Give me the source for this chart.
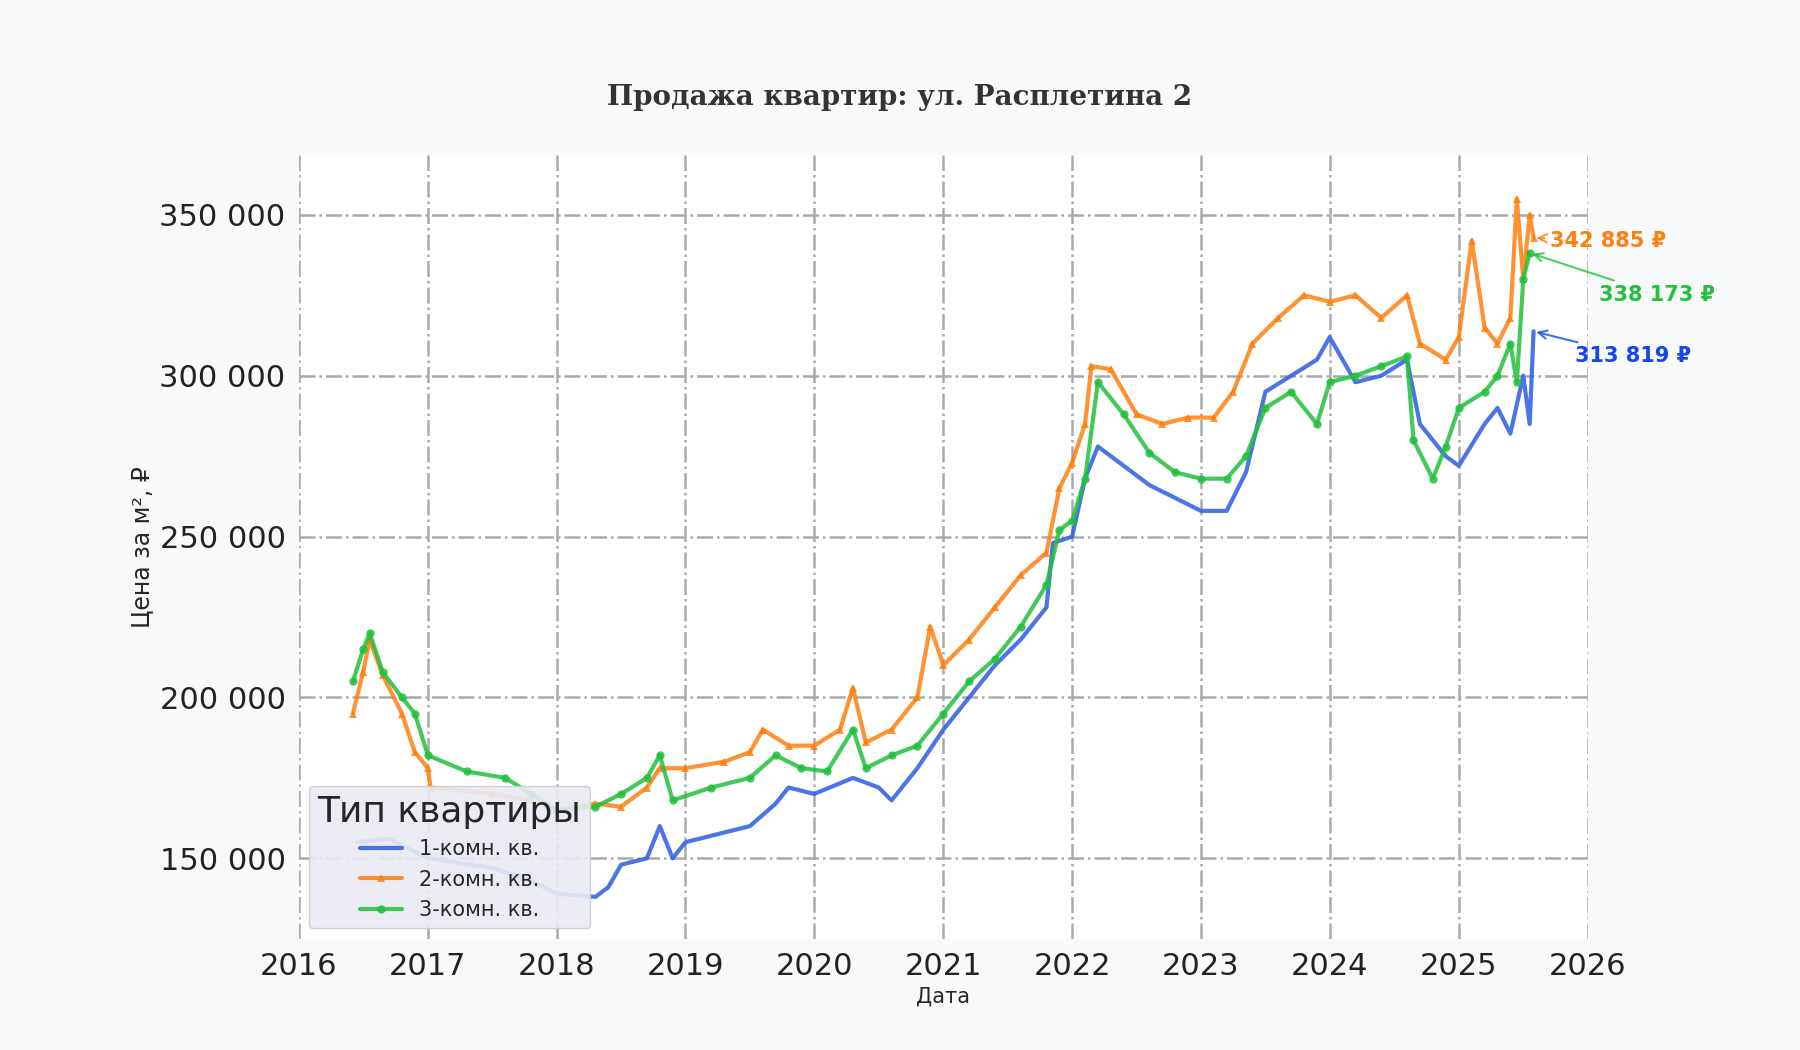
import numpy as np, pandas as pd, seaborn as sns, matplotlib
matplotlib.use("Agg")
import matplotlib.pyplot as plt
import matplotlib.dates as mdates

t1 = [2016.45,2016.7,2017.0,2017.5,2017.8,2018.0,2018.3,2018.4,2018.5,2018.7,2018.8,2018.9,2019.0,2019.5,2019.7,2019.8,2020.0,2020.3,2020.5,2020.6,2020.8,2021.0,2021.2,2021.4,2021.6,2021.8,2021.85,2022.0,2022.1,2022.2,2022.4,2022.6,2022.8,2023.0,2023.2,2023.35,2023.5,2023.7,2023.9,2024.0,2024.2,2024.4,2024.6,2024.7,2024.9,2025.0,2025.2,2025.3,2025.4,2025.5,2025.55,2025.58]
v1 = [155,156,150,147,143,139,138,141,148,150,160,150,155,160,167,172,170,175,172,168,178,190,200,210,218,228,248,250,268,278,272,266,262,258,258,270,295,300,305,312,298,300,305,285,275,272,285,290,282,300,285,313.819]
t2 = [2016.42,2016.5,2016.55,2016.65,2016.8,2016.9,2017.0,2017.02,2017.5,2017.8,2018.0,2018.3,2018.5,2018.7,2018.8,2019.0,2019.3,2019.5,2019.6,2019.8,2020.0,2020.2,2020.3,2020.4,2020.6,2020.8,2020.9,2021.0,2021.2,2021.4,2021.6,2021.8,2021.9,2022.0,2022.1,2022.15,2022.3,2022.5,2022.7,2022.9,2023.1,2023.25,2023.4,2023.6,2023.8,2024.0,2024.2,2024.4,2024.6,2024.7,2024.9,2025.0,2025.1,2025.2,2025.3,2025.4,2025.45,2025.5,2025.55,2025.58]
v2 = [195,208,218,207,195,183,178,172,170,168,165,167,166,172,178,178,180,183,190,185,185,190,203,186,190,200,222,210,218,228,238,245,265,273,285,303,302,288,285,287,287,295,310,318,325,323,325,318,325,310,305,312,342,315,310,318,355,330,350,342.885]
t3 = [2016.42,2016.5,2016.55,2016.65,2016.8,2016.9,2017.0,2017.3,2017.6,2017.8,2018.0,2018.3,2018.5,2018.7,2018.8,2018.9,2019.2,2019.5,2019.7,2019.9,2020.1,2020.3,2020.4,2020.6,2020.8,2021.0,2021.2,2021.4,2021.6,2021.8,2021.9,2022.0,2022.1,2022.2,2022.4,2022.6,2022.8,2023.0,2023.2,2023.35,2023.5,2023.7,2023.9,2024.0,2024.2,2024.4,2024.6,2024.65,2024.8,2024.9,2025.0,2025.2,2025.3,2025.4,2025.45,2025.5,2025.55]
v3 = [205,215,220,208,200,195,182,177,175,170,165,166,170,175,182,168,172,175,182,178,177,190,178,182,185,195,205,212,222,235,252,255,268,298,288,276,270,268,268,275,290,295,285,298,300,303,306,280,268,278,290,295,300,310,298,330,338.173]
labels = ["1-комн. кв.", "2-комн. кв.", "3-комн. кв."]
colors = ["#2b5ce6", "#ff7f0e", "#22c03c"]
markers = [None, "^", "o"]

def todate(ts):
    return [pd.Timestamp("%d-01-01" % int(t)) + pd.Timedelta(days=(t - int(t)) * 365.25) for t in ts]

sns.set_theme(style="whitegrid")
fig = plt.figure(figsize=(18, 10.5), dpi=100, facecolor="#f8f9fb")
ax = fig.add_axes([0.166, 0.106, 0.716, 0.746])
ax.set_facecolor("white")
for lab, ts, vs, c, m in zip(labels, [t1, t2, t3], [v1, v2, v3], colors, markers):
    d = pd.DataFrame({"Дата": todate(ts), "Цена": [v * 1000 for v in vs]})
    sns.lineplot(data=d, x="Дата", y="Цена", color=c, marker=m, lw=3, alpha=0.85,
                 markersize=6, markeredgewidth=0, label=lab, ax=ax)
ax.grid(True, color="#aaaaaa", linestyle="-.", lw=1.8)
for s in ax.spines.values():
    s.set_visible(False)
ax.set_xlim(pd.Timestamp("2016-01-01"), pd.Timestamp("2026-01-01"))
ax.set_ylim(125000, 368500)
ax.xaxis.set_major_locator(mdates.YearLocator())
ax.xaxis.set_major_formatter(mdates.DateFormatter("%Y"))
ax.set_yticks([150000, 200000, 250000, 300000, 350000])
ax.yaxis.set_major_formatter(matplotlib.ticker.FuncFormatter(lambda v, p: f"{int(v):,}".replace(",", " ")))
ax.tick_params(labelsize=22, colors="#222222")
ax.set_xlabel("Дата", fontsize=15)
ax.set_ylabel("Цена за м², ₽", fontsize=17)
fig.suptitle("Продажа квартир: ул. Расплетина 2", fontsize=20, fontweight="bold", family="DejaVu Serif", y=0.92, color="#333333")
ax.legend(title="Тип квартиры", loc="lower left", fontsize=15, title_fontsize=26, frameon=True,
          facecolor="#e9eaf2", edgecolor="#cccccc", framealpha=0.9)

anns = [(t2[-1], v2[-1], "342 885 ₽", "#ff7f0e", (12, -2)),
        (t3[-1], v3[-1], "338 173 ₽", "#22c03c", (50, -30)),
        (t1[-1], v1[-1], "313 819 ₽", "#1446f0", (30, -18))]
for t, v, txt, c, off in anns:
    ax.annotate(txt, xy=(todate([t])[0], v * 1000), xytext=off, textcoords="offset points",
                color=c, fontsize=15, fontweight="bold", va="center",
                arrowprops=dict(arrowstyle="->", color=c, lw=1.5, alpha=0.8))
fig.savefig("out.png", dpi=100, facecolor=fig.get_facecolor())
